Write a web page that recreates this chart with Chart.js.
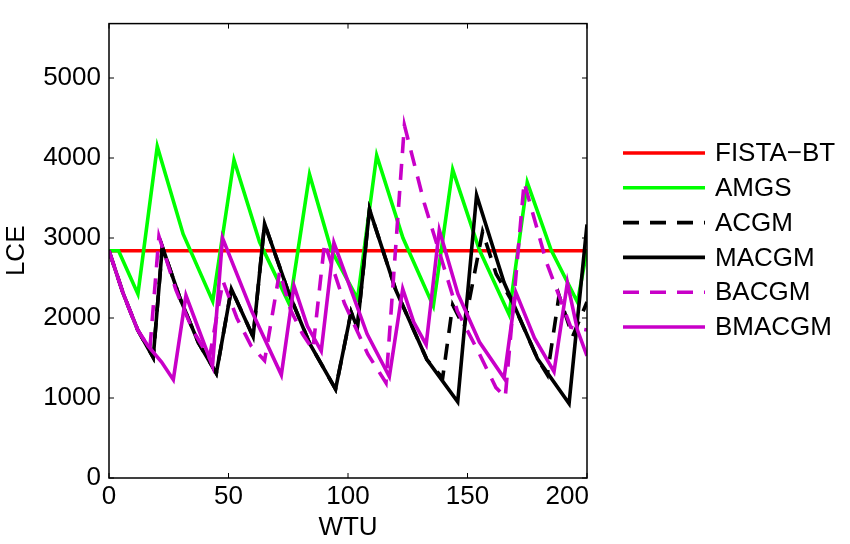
<!DOCTYPE html>
<html lang="en">
<head>
  <meta charset="UTF-8" />
  <title>LCE vs WTU</title>
  <script src="https://cdn.jsdelivr.net/npm/chart.js"></script>
  <style>
    html, body { margin: 0; padding: 0; background: #fff; }
    canvas { display: block; }
  </style>
</head>
<body>
  <canvas id="chart" width="850" height="544"></canvas>
  <script>
    // series (x = WTU, y = LCE)
    const labels = ['FISTA\u2212BT', 'AMGS', 'ACGM', 'MACGM', 'BACGM', 'BMACGM'];

    const fistaX = [0, 200];
    const fistaY = [2840, 2840];

    const amgsX = [0, 4, 12.1, 20.2, 31, 43.4, 52.3, 63, 75.6, 83.9, 93, 104, 112, 123, 135.7, 143.8, 155, 167.4, 175, 185, 196, 200];
    const amgsY = [2840, 2840, 2300, 4145, 3050, 2210, 3974, 2950, 2164, 3795, 2850, 2240, 4033, 3000, 2148, 3854, 2850, 2044, 3696, 2850, 2200, 2850];

    const acgmX = [0, 6, 12, 18.5, 22.3, 29.8, 37.4, 44.9, 51.2, 60.3, 65.1, 75, 84, 94.8, 101.3, 103.9, 109, 120, 133, 139.6, 143.8, 148.6, 156.3, 162, 168.8, 179.3, 183.4, 188.3, 194, 200];
    const acgmY = [2840, 2300, 1850, 1507, 2890, 2240, 1690, 1309, 2363, 1766, 3178, 2330, 1680, 1110, 2075, 1880, 3357, 2350, 1480, 1250, 2163, 1885, 3079, 2550, 2200, 1490, 1290, 2283, 1770, 2200];

    const macgmX = [0, 6, 12, 18.5, 22.3, 29.8, 37.4, 44.9, 51.2, 60.3, 65.1, 75, 84, 94.8, 101.3, 103.9, 109, 120, 133, 145.9, 153.8, 165.3, 179.3, 192.5, 200];
    const macgmY = [2840, 2300, 1850, 1507, 2890, 2240, 1690, 1309, 2363, 1766, 3178, 2330, 1680, 1110, 2075, 1880, 3357, 2350, 1480, 951, 3536, 2443, 1490, 931, 3170];

    const bacgmX = [0, 6, 12, 17.1, 20.9, 28, 35, 42, 47.7, 53.5, 59.5, 65.1, 71.4, 76, 81, 85.3, 90.2, 98.5, 108.3, 115.9, 123.6, 131.9, 145.8, 155, 161.9, 165.8, 173.7, 183, 193.2, 200];
    const bacgmY = [2840, 2300, 1850, 1611, 3020, 2350, 1850, 1500, 2462, 2000, 1650, 1468, 2581, 2100, 1800, 1607, 2940, 2184, 1548, 1190, 4411, 3437, 2085, 1550, 1130, 1011, 3696, 2700, 1885, 1850];

    const bmacgmX = [0, 6, 12, 16.4, 22, 26.9, 32.2, 37, 43.3, 47.5, 59.8, 72.1, 77.4, 83, 88.8, 94.1, 98.5, 108, 117.3, 122.9, 127.5, 132.7, 138.2, 146, 155, 165.3, 170.2, 178, 186.2, 191.8, 196, 200];
    const bmacgmY = [2840, 2300, 1850, 1647, 1450, 1229, 2283, 1900, 1400, 3000, 2080, 1289, 2402, 1900, 1587, 2940, 2581, 1800, 1269, 2363, 1950, 1667, 3099, 2300, 1700, 1249, 2323, 1750, 1329, 2442, 1850, 1527];

    const xTicks = [0, 50, 100, 150, 200];
    const yTicks = [0, 1000, 2000, 3000, 4000, 5000];

    const colors = ['#ff0000', '#00ff00', '#000000', '#000000', '#c800c8', '#c800c8'];
    const dashes = [[], [], [16, 11], [], [16, 11], []];
    const seriesX = [fistaX, amgsX, acgmX, macgmX, bacgmX, bmacgmX];
    const seriesY = [fistaY, amgsY, acgmY, macgmY, bacgmY, bmacgmY];

    const FONT = '"Liberation Sans", Arial, Helvetica, sans-serif';
    const LW = 3.6;

    const datasets = labels.map((name, i) => ({
      label: name,
      data: seriesX[i].map((x, k) => ({ x: x, y: seriesY[i][k] })),
      borderColor: colors[i],
      borderWidth: LW,
      borderDash: dashes[i],
      pointRadius: 0,
      tension: 0,
      fill: false,
      order: labels.length - i   // later series drawn on top, like the original
    }));

    // box around the axes with inward tick marks, plus x tick labels
    // (last label kept inside the right edge like in the source figure)
    const boxPlugin = {
      id: 'box',
      afterDraw(chart) {
        const { ctx, chartArea: a, scales } = chart;
        ctx.save();
        ctx.strokeStyle = '#000';
        ctx.lineWidth = 1.5;
        ctx.strokeRect(a.left, a.top, a.right - a.left, a.bottom - a.top);
        ctx.lineWidth = 1;
        ctx.beginPath();
        xTicks.forEach(v => {
          const px = scales.x.getPixelForValue(v);
          ctx.moveTo(px, a.bottom); ctx.lineTo(px, a.bottom - 5);
          ctx.moveTo(px, a.top); ctx.lineTo(px, a.top + 5);
        });
        yTicks.forEach(v => {
          const py = scales.y.getPixelForValue(v);
          ctx.moveTo(a.left, py); ctx.lineTo(a.left + 5, py);
          ctx.moveTo(a.right, py); ctx.lineTo(a.right - 5, py);
        });
        ctx.stroke();

        ctx.fillStyle = '#000';
        ctx.font = '26px ' + FONT;
        ctx.textBaseline = 'top';
        xTicks.forEach((v, i) => {
          const px = scales.x.getPixelForValue(v);
          const last = i === xTicks.length - 1;
          ctx.textAlign = last ? 'right' : 'center';
          ctx.fillText(String(v), last ? px + 2 : px, a.bottom + 6);
        });
        ctx.restore();
      }
    };

    // legend drawn to the right of the axes
    const legendPlugin = {
      id: 'sideLegend',
      afterDraw(chart) {
        const { ctx, chartArea: a } = chart;
        const x0 = a.right + 36, x1 = a.right + 118, top = 153, step = 34.8;
        ctx.save();
        ctx.font = '26px ' + FONT;
        ctx.textBaseline = 'middle';
        chart.data.datasets.forEach((ds, i) => {
          const y = top + i * step;
          ctx.strokeStyle = ds.borderColor;
          ctx.lineWidth = LW;
          ctx.setLineDash(ds.borderDash);
          ctx.beginPath();
          ctx.moveTo(x0, y); ctx.lineTo(x1, y);
          ctx.stroke();
          ctx.setLineDash([]);
          ctx.fillStyle = '#000';
          ctx.fillText(ds.label, x1 + 10, y + 1);
        });
        ctx.restore();
      }
    };

    new Chart(document.getElementById('chart'), {
      type: 'line',
      data: { datasets: datasets },
      options: {
        responsive: false,
        animation: false,
        layout: { padding: { left: 0, top: 2, right: 263, bottom: 0 } },
        plugins: { legend: { display: false }, tooltip: { enabled: false } },
        scales: {
          x: {
            type: 'linear', min: 0, max: 200,
            afterBuildTicks: s => { s.ticks = xTicks.map(v => ({ value: v })); },
            afterFit: s => { s.height = 66; },
            grid: { display: false, drawTicks: false },
            border: { display: false },
            ticks: { display: false },
            title: { display: true, text: 'WTU', color: '#000', font: { family: FONT, size: 26 }, padding: { top: 0, bottom: 1 } }
          },
          y: {
            type: 'linear', min: 0, max: 5680,
            afterBuildTicks: s => { s.ticks = yTicks.map(v => ({ value: v })); },
            afterFit: s => { s.width = 109; },
            grid: { display: false, drawTicks: false },
            border: { display: false },
            ticks: { color: '#000', font: { family: FONT, size: 26 }, padding: 8, callback: v => String(v) },
            title: { display: true, text: 'LCE', color: '#000', font: { family: FONT, size: 26 }, padding: { top: 1, bottom: 0 } }
          }
        }
      },
      plugins: [boxPlugin, legendPlugin]
    });
  </script>
</body>
</html>
